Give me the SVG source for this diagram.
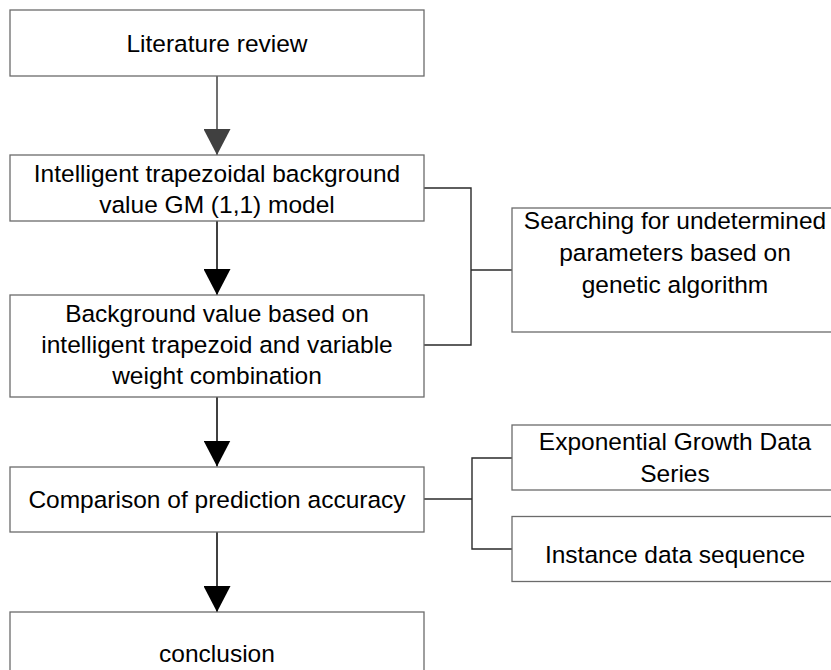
<svg xmlns="http://www.w3.org/2000/svg" width="831" height="670" viewBox="0 0 831 670">
<style>
.box{fill:#fff;stroke:#6b6b6b;stroke-width:1.3}
.t{font-family:"Liberation Sans",Arial,sans-serif;font-size:24.5px;fill:#000;text-anchor:middle}
.ln{fill:none;stroke:#2a2a2a;stroke-width:1.4}
.ar{fill:none;stroke:#000;stroke-width:1.5}
</style>
<defs>
<marker id="ah" markerUnits="userSpaceOnUse" markerWidth="28" markerHeight="27" refX="26" refY="13.5" orient="auto">
<path d="M0,0 L26,13.5 L0,27 Z" fill="#000"/>
</marker>
<marker id="ahg" markerUnits="userSpaceOnUse" markerWidth="28" markerHeight="27" refX="26" refY="13.5" orient="auto">
<path d="M0,0 L26,13.5 L0,27 Z" fill="#404040"/>
</marker>
</defs>
<rect width="831" height="670" fill="#fff"/>
<g id="connectors">
<line class="ar" x1="217" y1="76" x2="217" y2="155" stroke="#404040" style="stroke:#404040" marker-end="url(#ahg)"/>
<line class="ar" x1="217" y1="221" x2="217" y2="295" marker-end="url(#ah)"/>
<line class="ar" x1="217" y1="397" x2="217" y2="466.5" marker-end="url(#ah)"/>
<line class="ar" x1="217" y1="532" x2="217" y2="612" marker-end="url(#ah)"/>
<polyline class="ln" points="424,188 471,188 471,345 424,345"/>
<line class="ln" x1="471" y1="270" x2="512" y2="270"/>
<line class="ln" x1="424" y1="499" x2="472" y2="499"/>
<polyline class="ln" points="512,458 472,458 472,549 512,549"/>
</g>
<g id="literature">
<rect class="box" x="10" y="10" width="414" height="66"/>
<text class="t" x="217" y="52">Literature review</text>
</g>
<g id="gm11">
<rect class="box" x="10" y="155" width="414" height="66"/>
<text class="t" x="217" y="181.5">Intelligent trapezoidal background</text>
<text class="t" x="217" y="212.5">value GM (1,1) model</text>
</g>
<g id="background">
<rect class="box" x="10" y="295" width="414" height="102"/>
<text class="t" x="217" y="321.5">Background value based on</text>
<text class="t" x="217" y="352.5">intelligent trapezoid and variable</text>
<text class="t" x="217" y="383.5">weight combination</text>
</g>
<g id="comparison">
<rect class="box" x="10" y="467" width="414" height="65"/>
<text class="t" x="217" y="508">Comparison of prediction accuracy</text>
</g>
<g id="conclusion">
<rect class="box" x="10" y="612" width="414" height="80"/>
<text class="t" x="217" y="661.5">conclusion</text>
</g>
<g id="searching">
<rect class="box" x="512" y="208" width="326" height="124"/>
<text class="t" x="675" y="229">Searching for undetermined</text>
<text class="t" x="675" y="261">parameters based on</text>
<text class="t" x="675" y="293">genetic algorithm</text>
</g>
<g id="exponential">
<rect class="box" x="512" y="425" width="326" height="65"/>
<text class="t" x="675" y="450">Exponential Growth Data</text>
<text class="t" x="675" y="481.5">Series</text>
</g>
<g id="instance">
<rect class="box" x="512" y="516.5" width="326" height="65"/>
<text class="t" x="675" y="563">Instance data sequence</text>
</g>
</svg>
